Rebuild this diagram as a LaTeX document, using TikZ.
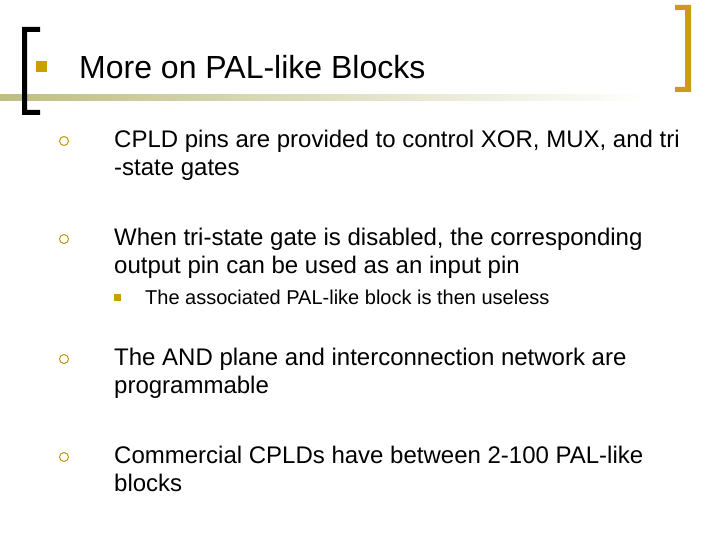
\documentclass[tikz,border=0pt]{standalone}
\usepackage{fontspec}
\setmainfont{Liberation Sans}
\definecolor{goldA}{RGB}{200,160,0}
\definecolor{goldB}{RGB}{205,155,20}
\definecolor{goldC}{RGB}{190,150,20}
\definecolor{olv}{RGB}{190,190,130}
\begin{document}
\begin{tikzpicture}[x=1pt,y=-1pt,
  gold/.style={fill=goldA},
  body/.style={anchor=west,font=\fontsize{24}{28}\selectfont,align=left,inner sep=0pt},
  circ/.style={draw=goldC,line width=1pt,circle,minimum size=9pt,inner sep=0pt}]
\useasboundingbox (0,0) rectangle (720,540);
\shade[left color=olv,right color=white] (0,95) rectangle (650,101);
\fill[black] (22,27) rectangle (27,115) (22,27) rectangle (40,32) (22,110) rectangle (40,115);
\fill[goldB] (685,5) rectangle (691,92) (675,5) rectangle (691,10) (675,87) rectangle (691,92);
\node[gold,minimum size=11pt,inner sep=0pt] (b0) at (41,67) {};
\node[anchor=west,inner sep=0pt,font=\fontsize{32}{36}\selectfont] (t) at (79,67) {More on PAL-like Blocks};
\node[circ] (c1) at (64,141) {};
\node[body,anchor=north west] (p1) at (114,130) {CPLD pins are provided to control XOR, MUX, and tri\\-state gates};
\node[circ] (c2) at (64,239) {};
\node[body,anchor=north west] (p2) at (114,228) {When tri-state gate is disabled, the corresponding\\output pin can be used as an input pin};
\node[gold,minimum size=7pt,inner sep=0pt] (b1) at (117,297) {};
\node[anchor=west,inner sep=0pt,font=\fontsize{20}{24}\selectfont] (s1) at (145,297) {The associated PAL-like block is then useless};
\node[circ] (c3) at (64,359) {};
\node[body,anchor=north west] (p3) at (114,348) {The AND plane and interconnection network are\\programmable};
\node[circ] (c4) at (64,457) {};
\node[body,anchor=north west] (p4) at (114,446) {Commercial CPLDs have between 2-100 PAL-like\\blocks};
\end{tikzpicture}
\end{document}
